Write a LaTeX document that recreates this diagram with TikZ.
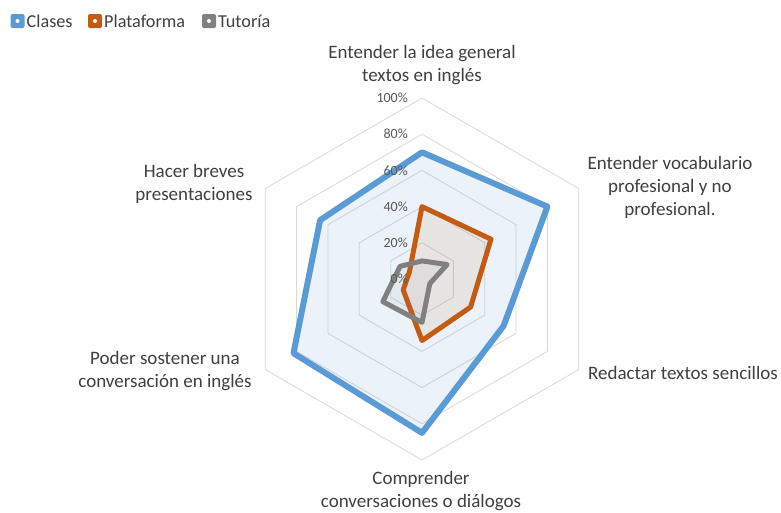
\documentclass[tikz,border=0pt]{standalone}
\usepackage{fontspec}
\setmainfont{Carlito}
\usetikzlibrary{calc}
\definecolor{serA}{HTML}{5B9BD5}
\definecolor{serB}{HTML}{C55A11}
\definecolor{serC}{HTML}{808080}
\definecolor{gridc}{HTML}{D9D9D9}
\definecolor{txt}{HTML}{404040}
\definecolor{ticktxt}{HTML}{595959}
\begin{document}
\begin{tikzpicture}[x=1pt,y=-1pt,
  gridline/.style={draw=gridc, line width=0.8pt},
  seriesA/.style={draw=serA, line width=6pt, line join=round, fill=serA, fill opacity=0.12, draw opacity=1},
  seriesB/.style={draw=serB, line width=5pt, line join=round, fill=serB, fill opacity=0.09, draw opacity=1},
  seriesC/.style={draw=serC, line width=5pt, line join=round, fill=serC, fill opacity=0.08, draw opacity=1},
  ticklbl/.style={anchor=east, inner sep=0pt, text=ticktxt, font=\fontsize{14}{16}\selectfont},
  catlbl/.style={inner sep=0pt, align=center, text=txt, font=\fontsize{19}{23}\selectfont},
  legtxt/.style={anchor=west, inner sep=0pt, text=txt, font=\fontsize{18.2}{22}\selectfont},
  legmark/.style={minimum size=14pt, inner sep=0pt, rounded corners=2pt,
    path picture={\fill[white] ($(path picture bounding box.center)+(-2,-2)$) rectangle ++(4,4);}}
]
\useasboundingbox (0,0) rectangle (781,512);
\fill[white] (0,0) rectangle (781,512);
\coordinate (c) at (422,279);

% grid rings
\foreach \k in {1,...,5}{
  \pgfmathsetmacro\rr{\k*36.2}
  \draw[gridline] ($(c)+(-90:\rr)$) -- ($(c)+(-30:\rr)$) -- ($(c)+(30:\rr)$)
    -- ($(c)+(90:\rr)$) -- ($(c)+(150:\rr)$) -- ($(c)+(210:\rr)$) -- cycle;
}

% data points
\foreach \v [count=\i] in {70,80,52,85,82,65}{
  \coordinate (a\i) at ($(c)+(\i*60-150:\v*1.81)$);
}
\foreach \v [count=\i] in {40,44,31,34,12,8}{
  \coordinate (b\i) at ($(c)+(\i*60-150:\v*1.81)$);
}
\foreach \v [count=\i] in {10,16,5,24,25,14}{
  \coordinate (g\i) at ($(c)+(\i*60-150:\v*1.81)$);
}

\path[seriesA] (a1) -- (a2) -- (a3) -- (a4) -- (a5) -- (a6) -- cycle;
\path[seriesB] (b1) -- (b2) -- (b3) -- (b4) -- (b5) -- (b6) -- cycle;
\path[seriesC] (g1) -- (g2) -- (g3) -- (g4) -- (g5) -- (g6) -- cycle;

% tick labels
\node[ticklbl] (t0) at (408,279) {0\%};
\node[ticklbl] (t1) at (408,242.8) {20\%};
\node[ticklbl] (t2) at (408,206.6) {40\%};
\node[ticklbl] (t3) at (408,170.4) {60\%};
\node[ticklbl] (t4) at (408,134.2) {80\%};
\node[ticklbl] (t5) at (408,98) {100\%};

% category labels
\node[catlbl] (l1) at (422,65.5) {Entender la idea general\\textos en inglés};
\node[catlbl] (l2) at (670,187) {Entender vocabulario\\profesional y no\\profesional.};
\node[catlbl] (l3) at (683,373) {Redactar textos sencillos};
\node[catlbl] (l4) at (421,491.5) {Comprender\\conversaciones o diálogos};
\node[catlbl] (l5) at (165,371.5) {Poder sostener una\\conversación en inglés};
\node[catlbl] (l6) at (194,183.5) {Hacer breves\\presentaciones};

% legend
\node[legmark, fill=serA] (m1) at (17.5,21) {};
\node[legtxt] (k1) at (26.5,21) {Clases};
\node[legmark, fill=serB] (m2) at (95,21) {};
\node[legtxt] (k2) at (104,21) {Plataforma};
\node[legmark, fill=serC] (m3) at (209,21) {};
\node[legtxt] (k3) at (218,21) {Tutoría};
\end{tikzpicture}
\end{document}
